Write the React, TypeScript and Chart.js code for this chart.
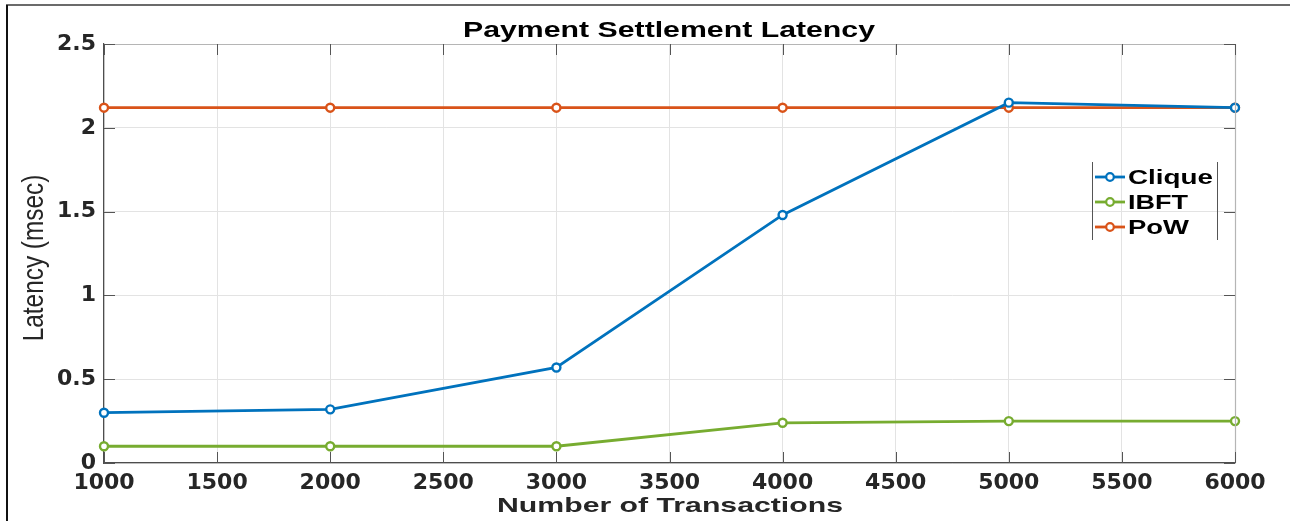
import React, { useEffect, useRef } from "react";
import { Chart, registerables } from "chart.js";

Chart.register(...registerables);

const transactions = [1000, 2000, 3000, 4000, 5000, 6000];
const cliqueLatency = [0.3, 0.32, 0.57, 1.48, 2.15, 2.12];
const ibftLatency = [0.1, 0.1, 0.1, 0.24, 0.25, 0.25];
const powLatency = [2.12, 2.12, 2.12, 2.12, 2.12, 2.12];
const seriesNames = ["Clique", "IBFT", "PoW"];
const seriesColors = ["#0072BD", "#77AC30", "#D95319"];
const xTickValues = [1000, 1500, 2000, 2500, 3000, 3500, 4000, 4500, 5000, 5500, 6000];
const yTickValues = [0, 0.5, 1, 1.5, 2, 2.5];
const chartTitle = "Payment Settlement Latency";
const xTitle = "Number of Transactions";
const yTitle = "Latency (msec)";

const FONT = "'Liberation Sans', Arial, sans-serif";
const TICK_FONT = "'DejaVu Sans', 'Liberation Sans', sans-serif";

function stretchedText(
  ctx: CanvasRenderingContext2D,
  text: string,
  x: number,
  y: number,
  font: string,
  width: number,
  align: "center" | "left"
) {
  ctx.save();
  ctx.font = font;
  ctx.textBaseline = "alphabetic";
  ctx.textAlign = align;
  const w = ctx.measureText(text).width;
  ctx.translate(x, y);
  ctx.scale(width / w, 1);
  ctx.fillText(text, 0, 0);
  ctx.restore();
}

const decorPlugin = {
  id: "decor",
  afterDraw(chart: any) {
    const ctx = chart.ctx as CanvasRenderingContext2D;
    const { left, right, top, bottom } = chart.chartArea;
    const xs = chart.scales.x;
    const ys = chart.scales.y;
    ctx.save();
    // box top/right
    ctx.strokeStyle = "#b5b5b5";
    ctx.lineWidth = 1.2;
    ctx.beginPath();
    ctx.moveTo(left, top + 0.5);
    ctx.lineTo(right, top + 0.5);
    ctx.moveTo(right + 0.5, top);
    ctx.lineTo(right + 0.5, bottom);
    ctx.stroke();
    // inward ticks
    ctx.strokeStyle = "#555";
    ctx.lineWidth = 1;
    ctx.beginPath();
    for (const v of xTickValues) {
      const px = Math.round(xs.getPixelForValue(v)) + 0.5;
      ctx.moveTo(px, bottom);
      ctx.lineTo(px, bottom - 11);
      ctx.moveTo(px, top);
      ctx.lineTo(px, top + 11);
    }
    for (const v of yTickValues) {
      const py = Math.round(ys.getPixelForValue(v)) + 0.5;
      ctx.moveTo(left, py);
      ctx.lineTo(left + 11, py);
      ctx.moveTo(right, py);
      ctx.lineTo(right - 11, py);
    }
    ctx.stroke();
    ctx.restore();

    // y axis title (condensed)
    ctx.save();
    ctx.fillStyle = "#262626";
    ctx.font = `29px ${FONT}`;
    ctx.textAlign = "center";
    ctx.textBaseline = "alphabetic";
    ctx.translate(43, 258);
    ctx.rotate(-Math.PI / 2);
    ctx.scale(0.84, 1);
    ctx.fillText(yTitle, 0, 0);
    ctx.restore();

    // chart title and x title
    ctx.save();
    ctx.fillStyle = "#000000";
    stretchedText(ctx, chartTitle, 669, 36.5, `bold 22px ${FONT}`, 412, "center");
    ctx.fillStyle = "#262626";
    stretchedText(ctx, xTitle, 670, 512, `bold 21px ${FONT}`, 346, "center");
    ctx.restore();

    // legend
    ctx.save();
    const lgLeft = 1092;
    const lgRight = 1217;
    ctx.strokeStyle = "#555";
    ctx.lineWidth = 1;
    ctx.beginPath();
    ctx.moveTo(lgLeft + 0.5, 162);
    ctx.lineTo(lgLeft + 0.5, 240);
    ctx.moveTo(lgRight + 0.5, 162);
    ctx.lineTo(lgRight + 0.5, 240);
    ctx.stroke();
    const rows = [177, 202, 227];
    const labelWidths = [85, 60, 61];
    seriesNames.forEach((name, i) => {
      const y = rows[i];
      ctx.strokeStyle = seriesColors[i];
      ctx.lineWidth = 2.8;
      ctx.beginPath();
      ctx.moveTo(1095, y);
      ctx.lineTo(1125, y);
      ctx.stroke();
      ctx.beginPath();
      ctx.fillStyle = "#ffffff";
      ctx.lineWidth = 2.2;
      ctx.arc(1110, y, 3.8, 0, Math.PI * 2);
      ctx.fill();
      ctx.stroke();
      ctx.fillStyle = "#000000";
      stretchedText(ctx, name, 1128, y + 6.5, `bold 21px ${FONT}`, labelWidths[i], "left");
    });
    ctx.restore();

    // outer frame
    ctx.save();
    ctx.strokeStyle = "#6b6b6b";
    ctx.lineWidth = 2;
    ctx.beginPath();
    ctx.moveTo(6, 5);
    ctx.lineTo(1290, 5);
    ctx.stroke();
    ctx.strokeStyle = "#111";
    ctx.beginPath();
    ctx.moveTo(7, 5);
    ctx.lineTo(7, 521);
    ctx.stroke();
    ctx.restore();
  },
};

export default function App() {
  const ref = useRef<HTMLCanvasElement | null>(null);
  useEffect(() => {
    if (!ref.current) return;
    const mk = (vals: number[]) => transactions.map((x, i) => ({ x, y: vals[i] }));
    const all = [cliqueLatency, ibftLatency, powLatency];
    const chart = new Chart(ref.current, {
      type: "line",
      data: {
        datasets: seriesNames.map((name, i) => ({
          label: name,
          data: mk(all[i]),
          borderColor: seriesColors[i],
          backgroundColor: "#ffffff",
          pointBorderColor: seriesColors[i],
          pointBackgroundColor: "#ffffff",
          borderWidth: 2.8,
          pointRadius: 4,
          pointBorderWidth: 2.4,
          tension: 0,
          clip: false as any,
        })),
      },
      options: {
        animation: false,
        responsive: false,
        devicePixelRatio: 1,
        layout: { padding: { top: 44, left: 0, right: 55, bottom: 0 } },
        plugins: {
          legend: { display: false },
          tooltip: { enabled: false },
          title: { display: false },
        },
        scales: {
          x: {
            type: "linear",
            min: 1000,
            max: 6000,
            afterFit: (s: any) => {
              s.height = 58;
            },
            afterBuildTicks: (s: any) => {
              s.ticks = xTickValues.map((v) => ({ value: v }));
            },
            grid: { color: "#e3e3e3", drawTicks: false, lineWidth: 1 },
            border: { display: true, color: "#4d4d4d", width: 1.2 },
            ticks: {
              color: "#262626",
              font: { family: TICK_FONT, size: 22, weight: "bold" },
              padding: 7,
              maxRotation: 0,
              autoSkip: false,
              callback: (v: any) => String(v),
            },
          },
          y: {
            type: "linear",
            min: 0,
            max: 2.5,
            afterFit: (s: any) => {
              s.width = 104;
            },
            afterBuildTicks: (s: any) => {
              s.ticks = yTickValues.map((v) => ({ value: v }));
            },
            grid: { color: "#e3e3e3", drawTicks: false, lineWidth: 1 },
            border: { display: true, color: "#4d4d4d", width: 1.2 },
            ticks: {
              color: "#262626",
              font: { family: TICK_FONT, size: 22, weight: "bold" },
              padding: 8,
              autoSkip: false,
              callback: (v: any) => String(v),
            },
          },
        },
      },
      plugins: [decorPlugin],
    } as any);
    return () => chart.destroy();
  }, []);
  return (
    <div style={{ position: "absolute", left: 0, top: 0, width: 1290, height: 521, background: "#fff" }}>
      <canvas ref={ref} width={1290} height={521} style={{ display: "block" }} />
    </div>
  );
}
